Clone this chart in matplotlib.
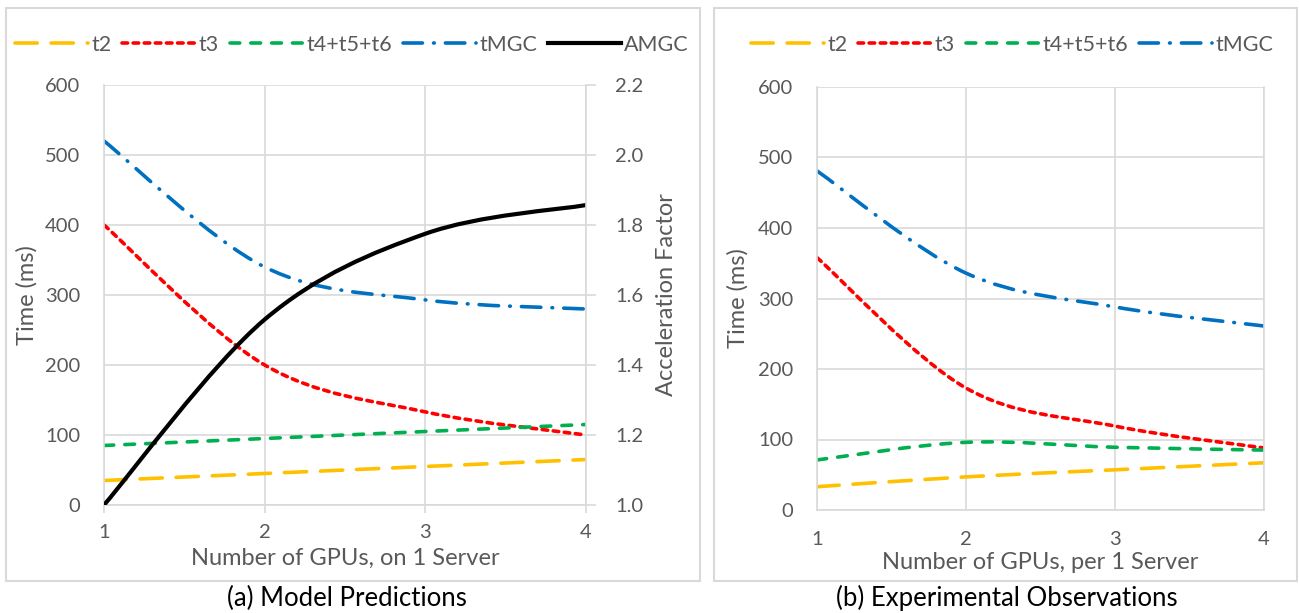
import matplotlib
matplotlib.use("Agg")
import matplotlib.pyplot as plt
from matplotlib.path import Path
from matplotlib.patches import PathPatch, Rectangle
from matplotlib.lines import Line2D

plt.rcParams['font.family'] = ['Lato', 'DejaVu Sans']
plt.rcParams['lines.scale_dashes'] = False

# data
gpus = [1, 2, 3, 4]

model_t2 = [35, 45, 55, 65]
model_t3 = [400, 200, 133, 100]
model_t456 = [85, 95, 105, 115]
model_tmgc = [520, 340, 293, 280]
model_amgc = [1.0, 1.53, 1.775, 1.857]

exp_t2 = [33, 47, 57, 67]
exp_t3 = [358, 173, 119, 88]
exp_t456 = [71, 96, 89, 85]
exp_tmgc = [481, 336, 288, 261]

series_names = ['t2', 't3', 't4+t5+t6', 'tMGC', 'AMGC']

GRAY = '#595959'
GRID = '#d9d9d9'
TICK_FS = 14.5
LABEL_FS = 17
LEG_FS = 15.5
CAP_FS = 18.5
LW = 2.6

styles = {
    't2': dict(color='#ffc000', dashes=(16, 10)),
    't3': dict(color='#ff0000', dashes=(4, 4)),
    't4+t5+t6': dict(color='#00b050', dashes=(7, 8)),
    'tMGC': dict(color='#0070c0', dashes=(14, 8, 0.5, 8)),
    'AMGC': dict(color='black', dashes=None),
}


def smooth(ax, x, y, name, lw=LW):
    # Excel-like smoothed line drawn as bezier segments
    verts = [(x[0], y[0])]
    codes = [Path.MOVETO]
    n = len(x)
    for i in range(n - 1):
        xp, yp = (x[i - 1], y[i - 1]) if i > 0 else (x[i], y[i])
        xn, yn = (x[i + 2], y[i + 2]) if i + 2 < n else (x[i + 1], y[i + 1])
        c1 = (x[i] + (x[i + 1] - xp) / 6, y[i] + (y[i + 1] - yp) / 6)
        c2 = (x[i + 1] - (xn - x[i]) / 6, y[i + 1] - (yn - y[i]) / 6)
        verts += [c1, c2, (x[i + 1], y[i + 1])]
        codes += [Path.CURVE4] * 3
    st = styles[name]
    ls = '-' if st['dashes'] is None else (0, st['dashes'])
    p = PathPatch(Path(verts, codes), fill=False, edgecolor=st['color'],
                  lw=lw, linestyle=ls, capstyle='round')
    ax.add_patch(p)


def handle(name, lw=LW):
    st = styles[name]
    ls = '-' if st['dashes'] is None else (0, st['dashes'])
    return Line2D([], [], color=st['color'], lw=lw, linestyle=ls,
                  dash_capstyle='round', label=name)


def style_axes(ax):
    ax.set_xlim(1, 4)
    ax.set_ylim(0, 600)
    ax.set_xticks(gpus)
    ax.set_yticks(range(0, 601, 100))
    ax.grid(True, color=GRID, lw=1.2)
    ax.set_axisbelow(True)
    for s in ax.spines.values():
        s.set_color(GRID)
        s.set_linewidth(1.2)
    ax.spines['top'].set_visible(False)
    ax.tick_params(axis='y', length=0, pad=17, labelsize=TICK_FS, labelcolor=GRAY)
    ax.set_ylabel('Time (ms)', fontsize=LABEL_FS, color=GRAY)


fig = plt.figure(figsize=(12.99, 6.13), dpi=100)

# panel frames
fig.add_artist(Rectangle((6 / 1299, 1 - 581 / 613), 694 / 1299, 573 / 613,
                         transform=fig.transFigure, fill=False, ec=GRID, lw=1.5))
fig.add_artist(Rectangle((714 / 1299, 1 - 581 / 613), 583 / 1299, 573 / 613,
                         transform=fig.transFigure, fill=False, ec=GRID, lw=1.5))

# (a) model predictions
ax1 = fig.add_axes([104 / 1299, 1 - 505 / 613, 482 / 1299, 420 / 613])
style_axes(ax1)
ax1.spines['right'].set_visible(False)
ax1.tick_params(axis='x', length=6, color=GRID, width=1.2, pad=8,
                labelsize=TICK_FS, labelcolor=GRAY)
smooth(ax1, gpus, model_t2, 't2')
smooth(ax1, gpus, model_t3, 't3')
smooth(ax1, gpus, model_t456, 't4+t5+t6')
smooth(ax1, gpus, model_tmgc, 'tMGC')
ax1.set_xlabel('Number of GPUs, on 1 Server', fontsize=LABEL_FS, color=GRAY)
ax1.xaxis.set_label_coords(0.5, -0.103)
ax1.yaxis.set_label_coords(-0.137, 0.5)

ax1b = ax1.twinx()
ax1b.set_ylim(1.0, 2.2)
ax1b.set_yticks([1.0, 1.2, 1.4, 1.6, 1.8, 2.0, 2.2])
ax1b.set_yticklabels([f'{v:.1f}' for v in [1.0, 1.2, 1.4, 1.6, 1.8, 2.0, 2.2]])
for s in ax1b.spines.values():
    s.set_visible(False)
ax1b.spines['right'].set_visible(True)
ax1b.spines['right'].set_color(GRID)
ax1b.spines['right'].set_linewidth(1.2)
ax1b.tick_params(axis='y', length=7, color=GRID, width=1.2, pad=14,
                 labelsize=TICK_FS, labelcolor=GRAY)
smooth(ax1b, gpus, model_amgc, 'AMGC', lw=3.0)
ax1b.set_ylabel('Acceleration Factor', fontsize=LABEL_FS, color=GRAY)
ax1b.yaxis.set_label_coords(1.145, 0.5)

fig.legend(handles=[handle(n, 3.0 if n == 'AMGC' else LW) for n in series_names],
           loc='center', bbox_to_anchor=(352 / 1299, 1 - 45 / 613), ncol=5,
           frameon=False, fontsize=LEG_FS, labelcolor=GRAY, handlelength=3.4,
           handletextpad=0.15, columnspacing=0.5)

# (b) experimental observations
ax2 = fig.add_axes([817 / 1299, 1 - 510 / 613, 447 / 1299, 423 / 613])
style_axes(ax2)
ax2.tick_params(axis='x', length=0, pad=15, labelsize=TICK_FS, labelcolor=GRAY)
smooth(ax2, gpus, exp_t2, 't2')
smooth(ax2, gpus, exp_t3, 't3')
smooth(ax2, gpus, exp_t456, 't4+t5+t6')
smooth(ax2, gpus, exp_tmgc, 'tMGC')
ax2.set_xlabel('Number of GPUs, per 1 Server', fontsize=LABEL_FS, color=GRAY)
ax2.xaxis.set_label_coords(0.5, -0.1)
ax2.yaxis.set_label_coords(-0.154, 0.5)

fig.legend(handles=[handle(n) for n in series_names[:4]],
           loc='center', bbox_to_anchor=(1012 / 1299, 1 - 45 / 613), ncol=4,
           frameon=False, fontsize=LEG_FS, labelcolor=GRAY, handlelength=3.4,
           handletextpad=0.15, columnspacing=0.5)

# captions
fig.text(347 / 1299, 1 - 598 / 613, '(a) Model Predictions', ha='center',
         va='center', fontsize=CAP_FS, color='black')
fig.text(1007 / 1299, 1 - 598 / 613, '(b) Experimental Observations', ha='center',
         va='center', fontsize=CAP_FS, color='black')

fig.savefig('out.png', dpi=100)
